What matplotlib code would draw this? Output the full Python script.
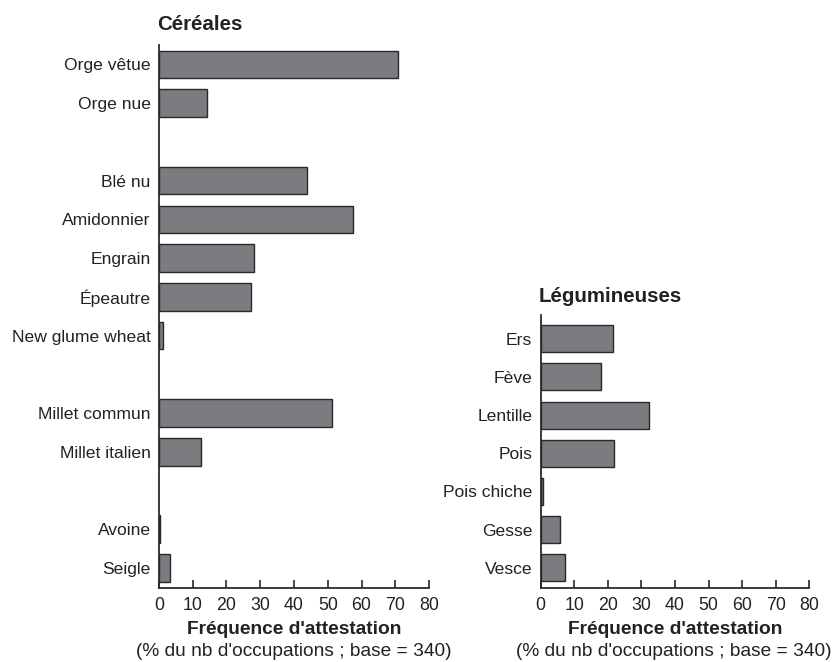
import matplotlib
matplotlib.use("Agg")
import matplotlib.pyplot as plt

plt.rcParams['font.family'] = ['Liberation Sans', 'DejaVu Sans']

# Céréales: slot positions (gaps between groups)
cer_labels = ["Orge vêtue", "Orge nue", "Blé nu", "Amidonnier", "Engrain", "Épeautre",
              "New glume wheat", "Millet commun", "Millet italien", "Avoine", "Seigle"]
cer_pos = [0, 1, 3, 4, 5, 6, 7, 9, 10, 12, 13]
cer_vals = [70.7, 14.1, 43.8, 57.6, 28.2, 27.4, 1.2, 51.2, 12.4, 0.3, 3.4]

leg_labels = ["Ers", "Fève", "Lentille", "Pois", "Pois chiche", "Gesse", "Vesce"]
leg_pos = [0, 1, 2, 3, 4, 5, 6]
leg_vals = [21.5, 17.9, 32.3, 21.9, 0.8, 5.8, 7.3]

xticks = [0, 10, 20, 30, 40, 50, 60, 70, 80]

txt = '#222222'
bar_col = '#7c7c80'
edge_col = '#2a2a2a'

fig = plt.figure(figsize=(8.35, 6.62), dpi=100)
ax1 = fig.add_axes([0.1904, 0.1122, 0.3234, 0.8198])
ax2 = fig.add_axes([0.6475, 0.1122, 0.3218, 0.4120])


def style(ax, pos, labels, vals, ylim, title, title_px, sub_dx):
    ax.barh(pos, vals, height=0.71, color=bar_col, edgecolor=edge_col, linewidth=1.0)
    ax.set_xlim(0, 80)
    ax.set_ylim(*ylim)
    ax.set_xticks(xticks)
    ax.set_yticks(pos)
    ax.set_yticklabels(labels)
    for s in ['top', 'right']:
        ax.spines[s].set_visible(False)
    for s in ['left', 'bottom']:
        ax.spines[s].set_color(edge_col)
        ax.spines[s].set_linewidth(1.3)
    ax.tick_params(axis='x', direction='in', length=6, width=1.2, color=edge_col,
                   labelsize=12.8, labelcolor=txt, pad=7)
    ax.tick_params(axis='y', length=0, labelsize=12.6, labelcolor=txt, pad=6)
    # positions in figure pixels
    x0 = ax.get_position().x0
    fig.text(x0 - 0.002, 1 - title_px / 662, title, fontsize=14.8, fontweight='bold',
             color=txt, ha='left', va='center')
    xc = (ax.get_position().x0 + ax.get_position().x1) / 2
    fig.text(xc, 1 - 630 / 662, "Fréquence d'attestation", fontsize=13.8,
             fontweight='bold', color=txt, ha='center', va='center')
    fig.text(xc + sub_dx / 835, 1 - 652 / 662, "(% du nb d'occupations ; base = 340)",
             fontsize=13.8, color=txt, ha='center', va='center')


style(ax1, cer_pos, cer_labels, cer_vals, (13.51, -0.503), "Céréales", 25, 0)
style(ax2, leg_pos, leg_labels, leg_vals, (6.52, -0.62), "Légumineuses", 296, -1)

fig.savefig("out.png", dpi=100)
